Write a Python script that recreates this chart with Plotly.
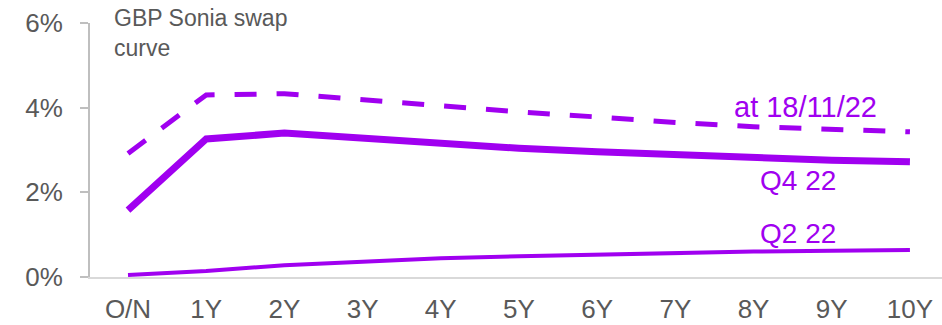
import plotly.graph_objects as go

# GBP SONIA swap curve by tenor (%)
tenors = ["O/N", "1Y", "2Y", "3Y", "4Y", "5Y", "6Y", "7Y", "8Y", "9Y", "10Y"]
q2_22 = [0.05, 0.14, 0.28, 0.37, 0.44, 0.49, 0.53, 0.57, 0.60, 0.62, 0.64]
q4_22 = [1.58, 3.26, 3.40, 3.28, 3.15, 3.04, 2.96, 2.88, 2.81, 2.76, 2.72]
at_181122 = [2.92, 4.30, 4.33, 4.18, 4.03, 3.90, 3.78, 3.65, 3.55, 3.48, 3.43]

y_ticks = [0, 2, 4, 6]
y_tick_text = ["0%", "2%", "4%", "6%"]

PURPLE = "#A000F0"
GREY_TEXT = "#595959"
FONT = "Liberation Sans, Arial, sans-serif"

fig = go.Figure()
fig.add_trace(go.Scatter(x=tenors, y=q2_22, mode="lines",
                         line=dict(color=PURPLE, width=4)))
fig.add_trace(go.Scatter(x=tenors, y=q4_22, mode="lines",
                         line=dict(color=PURPLE, width=7)))
fig.add_trace(go.Scatter(x=tenors, y=at_181122, mode="lines",
                         line=dict(color=PURPLE, width=5, dash="22px,20px")))

# series labels placed near the long end of each curve
label_font = dict(color=PURPLE, size=28, family=FONT)
fig.add_annotation(x=8.66, y=at_181122[8], text="at 18/11/22", showarrow=False,
                   yshift=20, font=dict(color=PURPLE, size=29, family=FONT))
fig.add_annotation(x=8.57, y=q4_22[8], text="Q4 22", showarrow=False,
                   yshift=-22, font=label_font)
fig.add_annotation(x=8.57, y=q2_22[8], text="Q2 22", showarrow=False,
                   yshift=18, font=label_font)

fig.add_annotation(xref="paper", yref="paper", x=0.026, y=1.078,
                   xanchor="left", yanchor="top", align="left",
                   text="GBP Sonia swap<br>curve", showarrow=False,
                   font=dict(color=GREY_TEXT, size=23, family=FONT))

fig.update_layout(
    width=942, height=325,
    margin=dict(l=90, r=0, t=23, b=48),
    paper_bgcolor="white", plot_bgcolor="white",
    showlegend=False,
    font=dict(family=FONT, color=GREY_TEXT, size=26),
    xaxis=dict(type="category", range=[-0.486, 10.41],
               showgrid=False, zeroline=False,
               showline=True, linecolor="#D9D9D9", linewidth=2,
               ticks="", ticklabelstandoff=8,
               tickfont=dict(size=26, color=GREY_TEXT)),
    yaxis=dict(range=[0, 6], tickvals=y_ticks, ticktext=y_tick_text,
               showgrid=False, zeroline=False,
               showline=True, linecolor="#BFBFBF", linewidth=2,
               ticks="outside", ticklen=8, tickwidth=2, tickcolor="#BFBFBF",
               ticklabelstandoff=12,
               tickfont=dict(size=26, color=GREY_TEXT)),
)

fig.write_html("out.html")
